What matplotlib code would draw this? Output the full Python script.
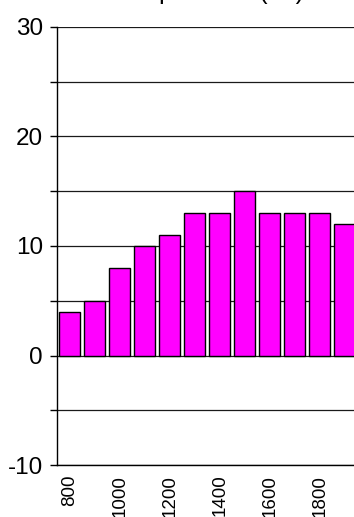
import matplotlib
matplotlib.use("Agg")
import matplotlib.pyplot as plt
import numpy as np

years = [800, 900, 1000, 1100, 1200, 1300, 1400, 1500, 1600, 1700, 1800, 1900]
values = [4, 5, 8, 10, 11, 13, 13, 15, 13, 13, 13, 12]
tick_years = [800, 1000, 1200, 1400, 1600, 1800]
title = "Temperature (°C)"

plt.rcParams['font.family'] = ['Liberation Sans', 'DejaVu Sans']

W, H = 354, 517
fig = plt.figure(figsize=(W / 100, H / 100), dpi=100)
ax = fig.add_axes([57 / W, (H - 465) / H, (357.6 - 57) / W, (465 - 27) / H])

x = np.arange(len(years))
ax.bar(x, values, width=0.84, color='#FF00FF', edgecolor='black', linewidth=1, zorder=3)

ax.set_xlim(-0.51, len(years) - 1 + 0.51)
ax.set_ylim(-10, 30)
ax.set_yticks(np.arange(-10, 31, 5))
ax.set_yticklabels([str(v) if v % 10 == 0 else '' for v in np.arange(-10, 31, 5)])
ax.yaxis.grid(True, color='#1a1a1a', linewidth=0.9, zorder=0)
ax.set_axisbelow(True)

pos = [years.index(y) for y in tick_years]
ax.set_xticks(pos)
ax.set_xticklabels([str(y) for y in tick_years], rotation=90, va='top', ha='center')
ax.tick_params(axis='x', length=0, pad=7, labelsize=13.5)
ax.tick_params(axis='y', length=5, width=1, pad=5, labelsize=17.5, direction='out')

for s in ['top', 'right']:
    ax.spines[s].set_visible(False)
ax.spines['left'].set_linewidth(1)
ax.spines['bottom'].set_linewidth(1)

fig.text(208 / W, 1 + 1 / H, title, ha='center', va='baseline', fontsize=18)

fig.savefig('out.png', dpi=100)
